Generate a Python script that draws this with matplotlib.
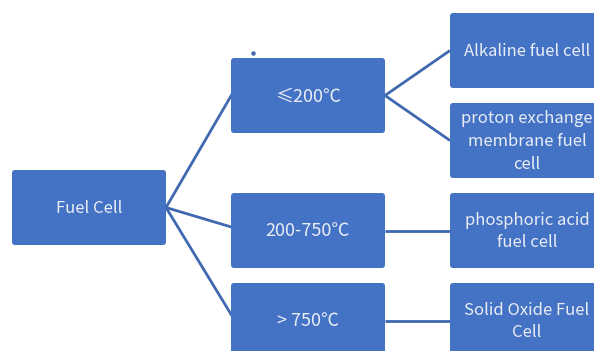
import matplotlib

matplotlib.use("Agg")
import matplotlib.pyplot as plt
from matplotlib.patches import FancyBboxPatch

plt.rcParams["font.family"] = ["Noto Sans CJK SC", "DejaVu Sans"]

ROOT_LABEL = "Fuel Cell"
TEMP_LABELS = ["≤200℃", "200-750℃", "> 750℃"]
TYPE_LABELS = [
    "Alkaline fuel cell",
    "proton exchange\nmembrane fuel\ncell",
    "phosphoric acid\nfuel cell",
    "Solid Oxide Fuel\nCell",
]
# which temperature box each fuel cell type hangs from
TYPE_PARENT = [0, 0, 1, 2]

BOX_FILL = "#4472C4"
LINE_COLOR = "#3F68B0"
TEXT_COLOR = "#E9EEF6"

W, H = 594, 351
BOX_W, BOX_H = 154, 75

root_xy = (12, 170)
temp_x = 231
temp_y = [58, 193, 283]
type_x = 450
type_y = [13, 103, 193, 283]


def draw_box(ax, x, y, label, size=12):
    ax.add_patch(
        FancyBboxPatch(
            (x + 3, y + 3), BOX_W - 6, BOX_H - 6,
            boxstyle="round,pad=3",
            facecolor=BOX_FILL, edgecolor="none", zorder=2,
        )
    )
    ax.text(
        x + BOX_W / 2, y + BOX_H / 2 + 1, label,
        ha="center", va="center", color=TEXT_COLOR,
        fontsize=size, fontweight="light", linespacing=1.45, zorder=3,
    )


fig = plt.figure(figsize=(W / 100, H / 100), dpi=100)
ax = fig.add_axes([0, 0, 1, 1])
ax.set_xlim(0, W)
ax.set_ylim(H, 0)
ax.axis("off")

rx, ry = root_xy
root_right = (rx + BOX_W, ry + BOX_H / 2)

# connectors from root to temperature boxes
for ty in temp_y:
    ax.plot([root_right[0], temp_x + 2], [root_right[1], ty + BOX_H / 2 - 3],
            color=LINE_COLOR, lw=2, zorder=1, solid_capstyle="butt")
# small stray mark above the first temperature box
ax.plot([253], [53], marker="o", ms=2.2, color=LINE_COLOR, zorder=1)

# connectors from temperature boxes to fuel cell types
for j, ty in enumerate(type_y):
    p = TYPE_PARENT[j]
    start = (temp_x + BOX_W, temp_y[p] + BOX_H / 2)
    ax.plot([start[0], type_x], [start[1], ty + BOX_H / 2],
            color=LINE_COLOR, lw=2, zorder=1, solid_capstyle="butt")

draw_box(ax, rx, ry, ROOT_LABEL)
for ty, label in zip(temp_y, TEMP_LABELS):
    draw_box(ax, temp_x, ty, label, size=13)
for ty, label in zip(type_y, TYPE_LABELS):
    draw_box(ax, type_x, ty, label)

fig.savefig("out.png", dpi=100)
